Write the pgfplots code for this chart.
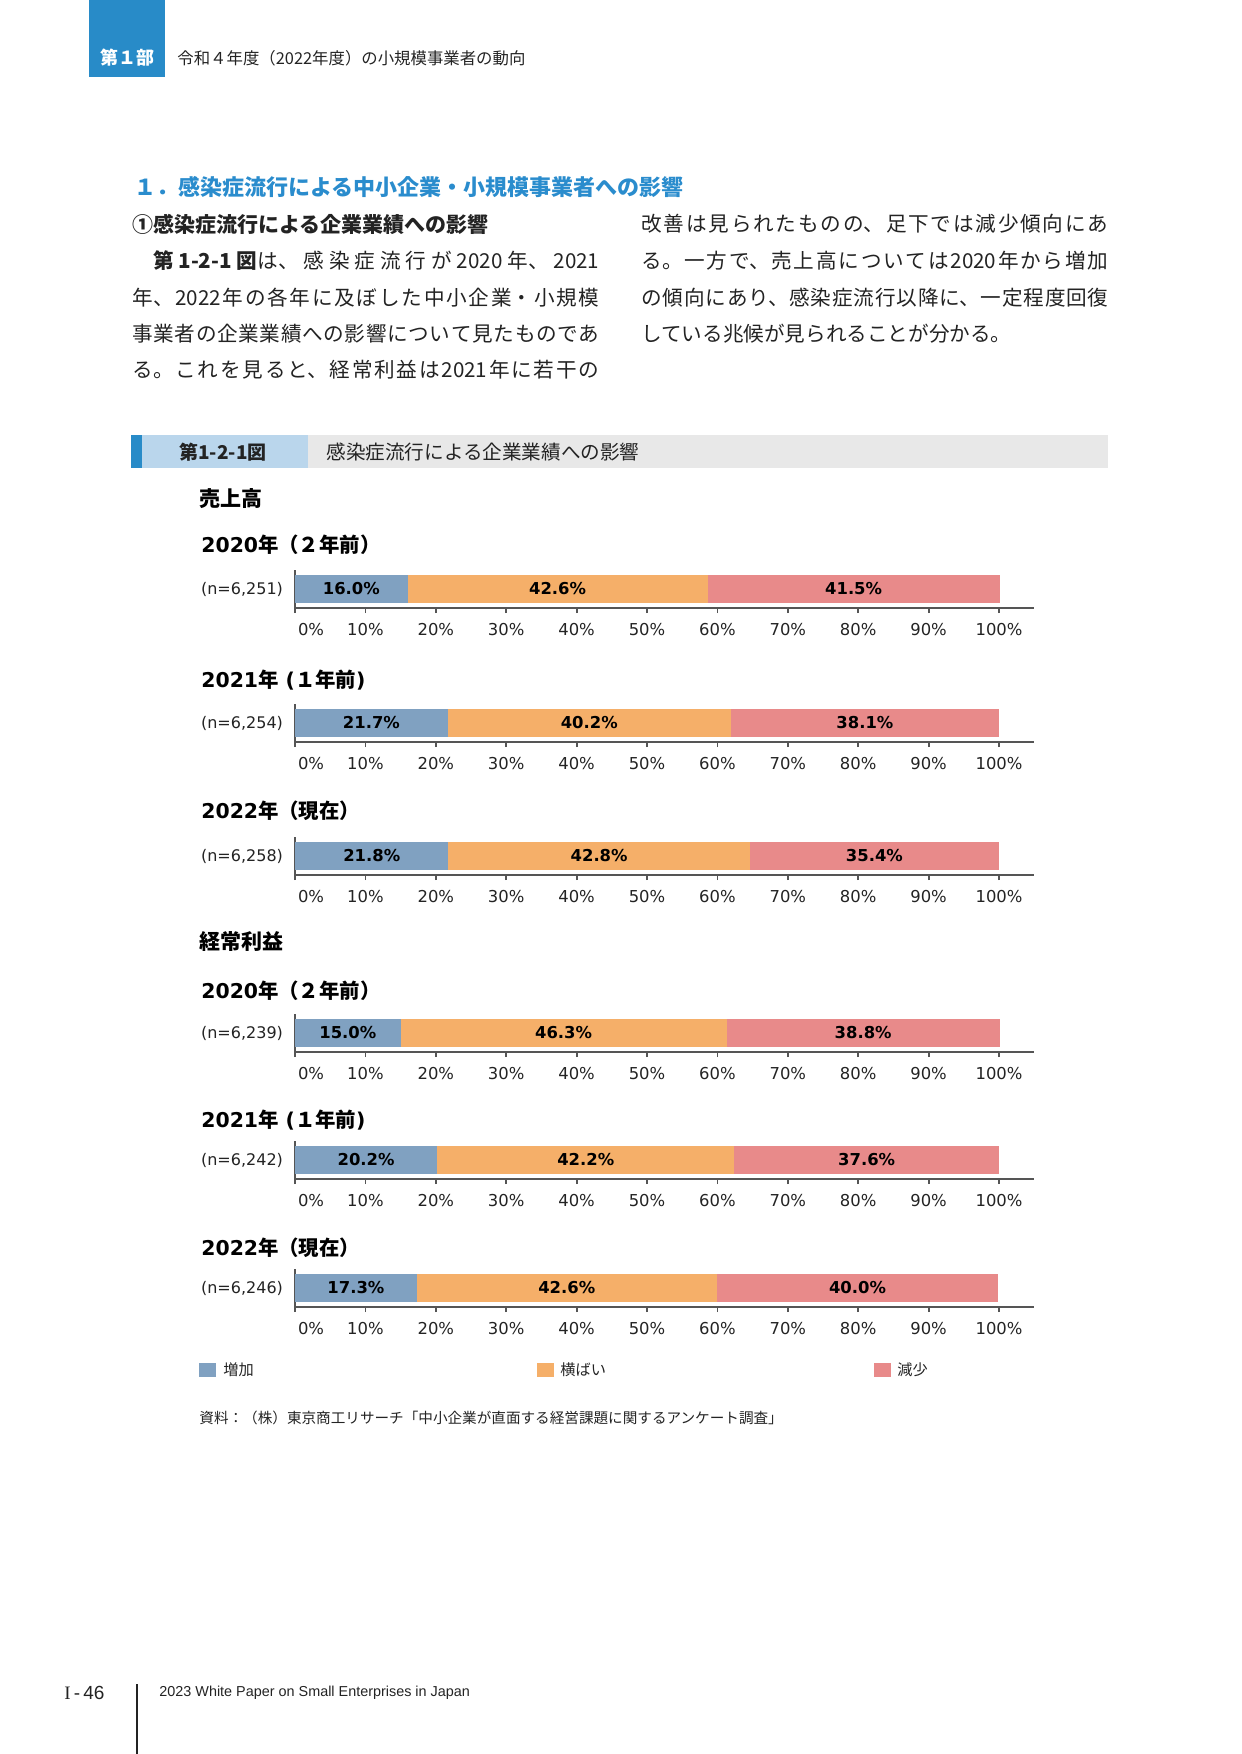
\documentclass[border=0pt]{standalone}
\usepackage{fontspec}
\usepackage{pgfplots}
\usepackage{pgfplotstable}
\pgfplotsset{compat=1.18}
\setmainfont{DejaVu Sans}
\newfontfamily\cjk{Noto Sans CJK JP}
\newfontfamily\lsans{Liberation Sans}
\newfontfamily\lserif{Liberation Serif}
\XeTeXlinebreaklocale "ja"
\XeTeXlinebreakskip=0pt plus 1pt
\definecolor{hdrblue}{RGB}{40,139,200}
\definecolor{secblue}{RGB}{42,140,205}
\definecolor{lblue}{RGB}{186,214,236}
\definecolor{lgray}{RGB}{232,232,232}
\definecolor{cinc}{RGB}{128,161,193}
\definecolor{cflat}{RGB}{245,175,105}
\definecolor{cdec}{RGB}{232,138,138}
\definecolor{axgray}{RGB}{85,85,85}
\definecolor{txt}{RGB}{35,35,35}
\newcommand{\fs}[1]{\fontsize{#1}{#1}\selectfont}
\newcommand{\jline}[3]{\node[anchor=west, inner sep=0, text width=233.5pt, align=justify, text=txt, font=\cjk\fs{10.3}] at (#1,#2) {\noindent\parfillskip=0pt #3\par};}

\pgfplotstableread{
cat inc flat dec
0 16.0 42.6 41.5
}\salesA
\pgfplotstableread{
cat inc flat dec
0 21.7 40.2 38.1
}\salesB
\pgfplotstableread{
cat inc flat dec
0 21.8 42.8 35.4
}\salesC
\pgfplotstableread{
cat inc flat dec
0 15.0 46.3 38.8
}\profA
\pgfplotstableread{
cat inc flat dec
0 20.2 42.2 37.6
}\profB
\pgfplotstableread{
cat inc flat dec
0 17.3 42.6 40.0
}\profC

\pgfplotsset{
  bars/.style={
    xbar stacked, scale only axis, width=369.6pt, height=19pt,
    xmin=0, xmax=105, ymin=-1, ymax=1, bar width=14pt,
    axis x line*=bottom, axis y line*=left,
    axis line style={-, draw=axgray, line width=0.9pt},
    xtick={0,10,...,100},
    xticklabels={\makebox[0pt][l]{\hspace{1.5pt}0\%},10\%,20\%,30\%,40\%,50\%,60\%,70\%,80\%,90\%,100\%},
    ytick={0},
    major tick length=2.5pt, tick align=outside,
    x tick style={draw=axgray, line width=0.9pt},
    y tick style={draw=none},
    xticklabel style={font=\fs{8.2}, text=txt, yshift=-1.5pt},
    yticklabel style={font=\fs{8}, text=txt},
    clip=false,
  },
  seg/.style args={#1/#2}{fill=#1, draw=none,
    visualization depends on={\thisrow{#2}\as\segw},
    nodes near coords={\pgfmathprintnumber[fixed,fixed zerofill,precision=1,assume math mode=true]{\segw}\%},
    every node near coord/.style={anchor=center, font=\fs{8.2}\bfseries, text=black},
  },
}

\begin{document}
\begin{tikzpicture}[x=0.5pt,y=-0.5pt]
\useasboundingbox (0,0) rectangle (1241,1754);
% page header
\fill[hdrblue] (89,0) rectangle (165,77);
\node[text=white, font=\cjk\bfseries\fs{9}] at (127,58) {第１部};
\node[anchor=west, inner sep=0, text=txt, font=\cjk\fs{8.2}] at (177,58) {令和４年度（2022年度）の小規模事業者の動向};
% section title
\node[anchor=west, inner sep=0, text=secblue, font=\cjk\bfseries\fs{11}] at (134,187) {１．感染症流行による中小企業・小規模事業者への影響};
% body text
\node[anchor=west, inner sep=0, text=txt, font=\cjk\bfseries\fs{10.5}] at (132,224) {①感染症流行による企業業績への影響};
\jline{132}{261}{　{\bfseries 第1-2-1図}は、感染症流行が2020年、2021}
\jline{132}{298}{年、2022年の各年に及ぼした中小企業・小規模}
\jline{132}{334}{事業者の企業業績への影響について見たものであ}
\jline{132}{370}{る。これを見ると、経常利益は2021年に若干の}
\jline{641}{224}{改善は見られたものの、足下では減少傾向にあ}
\jline{641}{261}{る。一方で、売上高については2020年から増加}
\jline{641}{298}{の傾向にあり、感染症流行以降に、一定程度回復}
\node[anchor=west, inner sep=0, text=txt, font=\cjk\fs{10.3}] at (641,334) {している兆候が見られることが分かる。};
% figure header
\fill[hdrblue] (131,435) rectangle (142,468);
\fill[lblue] (142,435) rectangle (308,468);
\fill[lgray] (308,435) rectangle (1108,468);
\node[anchor=west, inner sep=0, font=\cjk\bfseries\fs{9.5}, text=txt] at (179,452) {第1-2-1図};
\node[anchor=west, inner sep=0, font=\cjk\fs{9.8}, text=txt] at (326,452) {感染症流行による企業業績への影響};
% sub headings
\node[anchor=west, inner sep=0, font=\cjk\bfseries\fs{10.5}] at (199,499) {売上高};
\node[anchor=west, inner sep=0, font=\bfseries\fs{10.2}] at (201,545) {2020{\cjk 年（２年前）}};
\node[anchor=west, inner sep=0, font=\bfseries\fs{10.2}] at (201,680) {2021{\cjk 年} ({\cjk １年前})};
\node[anchor=west, inner sep=0, font=\bfseries\fs{10.2}] at (201,811) {2022{\cjk 年（現在）}};
\node[anchor=west, inner sep=0, font=\cjk\bfseries\fs{10.5}] at (199,942) {経常利益};
\node[anchor=west, inner sep=0, font=\bfseries\fs{10.2}] at (201,991) {2020{\cjk 年（２年前）}};
\node[anchor=west, inner sep=0, font=\bfseries\fs{10.2}] at (201,1120) {2021{\cjk 年} ({\cjk １年前})};
\node[anchor=west, inner sep=0, font=\bfseries\fs{10.2}] at (201,1248) {2022{\cjk 年（現在）}};
% charts (positions in pt: x=0.5*px, y=-0.5*px)
\begin{axis}[bars, at={(147.5pt,-304pt)}, anchor=south west, yticklabels={{(n=6,251)}}]
\addplot[seg=cinc/inc] table[x=inc,y=cat]{\salesA};
\addplot[seg=cflat/flat] table[x=flat,y=cat]{\salesA};
\addplot[seg=cdec/dec] table[x=dec,y=cat]{\salesA};
\end{axis}
\begin{axis}[bars, at={(147.5pt,-371pt)}, anchor=south west, yticklabels={{(n=6,254)}}]
\addplot[seg=cinc/inc] table[x=inc,y=cat]{\salesB};
\addplot[seg=cflat/flat] table[x=flat,y=cat]{\salesB};
\addplot[seg=cdec/dec] table[x=dec,y=cat]{\salesB};
\end{axis}
\begin{axis}[bars, at={(147.5pt,-437.5pt)}, anchor=south west, yticklabels={{(n=6,258)}}]
\addplot[seg=cinc/inc] table[x=inc,y=cat]{\salesC};
\addplot[seg=cflat/flat] table[x=flat,y=cat]{\salesC};
\addplot[seg=cdec/dec] table[x=dec,y=cat]{\salesC};
\end{axis}
\begin{axis}[bars, at={(147.5pt,-526pt)}, anchor=south west, yticklabels={{(n=6,239)}}]
\addplot[seg=cinc/inc] table[x=inc,y=cat]{\profA};
\addplot[seg=cflat/flat] table[x=flat,y=cat]{\profA};
\addplot[seg=cdec/dec] table[x=dec,y=cat]{\profA};
\end{axis}
\begin{axis}[bars, at={(147.5pt,-589.5pt)}, anchor=south west, yticklabels={{(n=6,242)}}]
\addplot[seg=cinc/inc] table[x=inc,y=cat]{\profB};
\addplot[seg=cflat/flat] table[x=flat,y=cat]{\profB};
\addplot[seg=cdec/dec] table[x=dec,y=cat]{\profB};
\end{axis}
\begin{axis}[bars, at={(147.5pt,-653.5pt)}, anchor=south west, yticklabels={{(n=6,246)}}]
\addplot[seg=cinc/inc] table[x=inc,y=cat]{\profC};
\addplot[seg=cflat/flat] table[x=flat,y=cat]{\profC};
\addplot[seg=cdec/dec] table[x=dec,y=cat]{\profC};
\end{axis}
% legend
\fill[cinc] (199,1363) rectangle (216,1377);
\node[anchor=west, inner sep=0, font=\cjk\fs{7.6}, text=txt] at (223,1370) {増加};
\fill[cflat] (537,1363) rectangle (554,1377);
\node[anchor=west, inner sep=0, font=\cjk\fs{7.6}, text=txt] at (560,1370) {横ばい};
\fill[cdec] (874,1363) rectangle (891,1377);
\node[anchor=west, inner sep=0, font=\cjk\fs{7.6}, text=txt] at (897,1370) {減少};
% source
\node[anchor=west, inner sep=0, font=\cjk\fs{7.3}, text=txt] at (199,1418) {資料：（株）東京商工リサーチ「中小企業が直面する経営課題に関するアンケート調査」};
% footer
\draw[line width=0.8pt, txt] (137,1684) -- (137,1754);
\node[anchor=west, inner sep=0, font=\lsans\fs{9.5}, text=txt] at (64,1693) {{\lserif I}\,-\,46};
\node[anchor=west, inner sep=0, font=\lsans\fs{7.2}, text=txt] at (159,1693) {2023 White Paper on Small Enterprises in Japan};
\end{tikzpicture}
\end{document}
